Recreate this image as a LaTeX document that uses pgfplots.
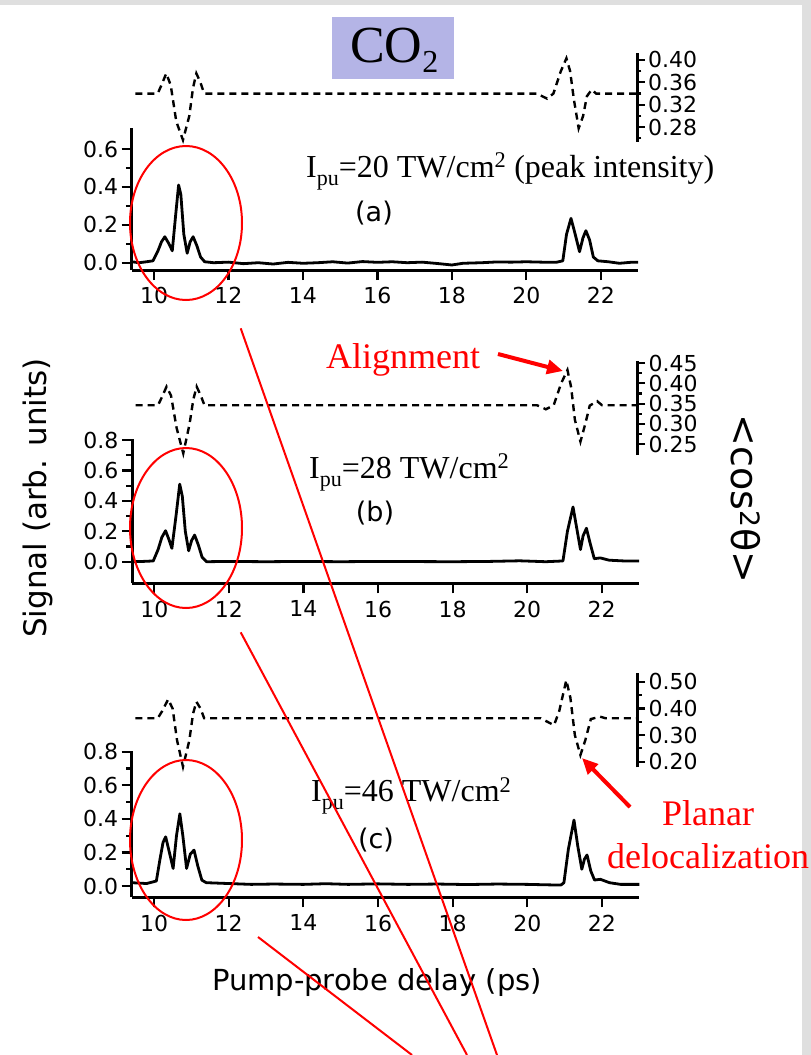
\documentclass[border=0pt]{standalone}
\usepackage{pgfplots}
\pgfplotsset{compat=1.18}
\usepackage{fontspec}
\setmainfont{Liberation Serif}
\newfontfamily\dejavu{DejaVu Sans}
\usetikzlibrary{arrows.meta}
\definecolor{lav}{RGB}{180,180,230}
\pgfplotsset{
  base/.style={scale only axis, xmin=9.4, xmax=23, anchor=south west,
    clip=false,
    tick label style={font=\dejavu\fontsize{22}{22}\selectfont},
    /pgf/number format/assume math mode=true},
  lines/.style={tick align=outside,
    every tick/.style={black, line width=2.2pt},
    axis line style={-, line width=3pt},
    x axis line style={-, line width=3pt}, y axis line style={-, line width=3pt},
    every outer x axis line/.append style={-, line width=3pt},
    every outer y axis line/.append style={-, line width=3pt},
    every inner x axis line/.append style={-, line width=3pt},
    every inner y axis line/.append style={-, line width=3pt}},
  sig/.style={base, axis x line*=bottom, axis y line*=left,
    xtick pos=lower, ytick pos=left,
    xtick={10,12,...,22}, major tick length=10pt, minor tick length=5.7pt,
    minor y tick num=1,
    y tick label style={/pgf/number format/.cd,fixed,fixed zerofill,precision=1,/tikz/.cd},
    x tick label style={yshift=-4pt}, lines},
  cs/.style={base, axis x line=none, axis y line*=right, ytick pos=right,
    major tick length=7.7pt, minor tick length=4.3pt,
    y tick label style={/pgf/number format/.cd,fixed,fixed zerofill,precision=2,/tikz/.cd}, lines},
  sline/.style={black, line width=2.8pt, line join=round},
  dline/.style={black, line width=2.4pt, dash pattern=on 7pt off 5pt},
}
\begin{document}
\begin{tikzpicture}
\useasboundingbox (0,0) rectangle (811pt,-1055pt);
\clip (0,0) rectangle (811pt,-1055pt);
\fill[white] (0,0) rectangle (811pt,-1055pt);
\fill[gray!25] (0,0) rectangle (811pt,-5pt);
\fill[gray!25] (802pt,0) rectangle (811pt,-1055pt);

% ---------- panel (a) ----------
\begin{axis}[sig, at={(131.7pt,-270pt)}, width=506.3pt, height=142pt,
  ymin=-0.0385, ymax=0.711, ytick={0,0.2,0.4,0.6}]
\addplot[sline] coordinates {(9.4,0.005) (9.6,0.0) (9.8,0.005) (9.97,0.01) (10.1,0.06) (10.2,0.11) (10.29,0.137) (10.4,0.1) (10.49,0.063) (10.58,0.25) (10.66,0.41) (10.72,0.36) (10.8,0.15) (10.89,0.05) (10.97,0.11) (11.05,0.137) (11.15,0.09) (11.25,0.03) (11.36,0.005) (11.6,0.0) (12.0,0.003) (12.4,-0.005) (12.8,0.0) (13.2,-0.007) (13.6,0.002) (14.0,-0.003) (14.4,0.0) (14.8,0.005) (15.2,-0.002) (15.6,0.006) (16.0,0.002) (16.4,0.005) (16.8,0.0) (17.2,0.003) (17.6,-0.004) (18.0,-0.012) (18.3,-0.003) (18.8,0.0) (19.2,0.004) (19.6,0.003) (20.0,0.005) (20.4,0.003) (20.8,0.002) (20.98,0.01) (21.08,0.15) (21.2,0.234) (21.3,0.16) (21.43,0.058) (21.52,0.13) (21.6,0.169) (21.7,0.12) (21.8,0.03) (21.92,0.01) (22.2,0.005) (22.5,-0.003) (22.8,0.002) (23,0.002)};
\end{axis}
\begin{axis}[cs, at={(131.7pt,-141.7pt)}, width=505.3pt, height=89pt,
  ymin=0.254, ymax=0.413, ytick={0.28,0.32,0.36,0.40}, minor ytick={0.26,0.30,0.34,0.38}]
\addplot[dline] coordinates {(9.5,0.34) (10.1,0.34) (10.2,0.355) (10.33,0.376) (10.45,0.355) (10.6,0.29) (10.78,0.257) (10.95,0.30) (11.05,0.35) (11.14,0.376) (11.25,0.36) (11.35,0.34) (20.3,0.34) (20.58,0.331) (20.75,0.34) (20.95,0.38) (21.1,0.403) (21.2,0.38) (21.3,0.33) (21.43,0.278) (21.55,0.30) (21.65,0.335) (21.78,0.347) (21.9,0.34) (23,0.34)};
\end{axis}

% ---------- panel (b) ----------
\begin{axis}[sig, at={(132pt,-583.3pt)}, width=507pt, height=144.3pt,
  ymin=-0.142, ymax=0.807, ytick={0,0.2,0.4,0.6,0.8}]
\addplot[sline] coordinates {(9.4,0.0) (9.7,0.002) (9.97,0.005) (10.1,0.08) (10.2,0.16) (10.3,0.204) (10.4,0.14) (10.47,0.088) (10.58,0.3) (10.68,0.51) (10.75,0.43) (10.83,0.2) (10.92,0.072) (11.0,0.14) (11.08,0.175) (11.18,0.11) (11.28,0.03) (11.4,0.0) (12.0,0.002) (13.0,0.0) (14.0,0.002) (15.0,0.0) (16.0,0.002) (17.0,0.001) (18.0,0.0) (19.0,0.002) (19.8,0.006) (20.5,0.0) (20.96,0.005) (21.08,0.2) (21.23,0.36) (21.33,0.22) (21.43,0.08) (21.5,0.17) (21.59,0.22) (21.68,0.13) (21.8,0.02) (21.96,0.025) (22.2,0.01) (22.6,0.005) (23,0.005)};
\end{axis}
\begin{axis}[cs, at={(132pt,-455pt)}, width=505.3pt, height=94.3pt,
  ymin=0.223, ymax=0.456, ytick={0.25,0.30,0.35,0.40,0.45}, minor ytick={0.275,0.325,0.375,0.425}]
\addplot[dline] coordinates {(9.5,0.346) (10.1,0.346) (10.2,0.365) (10.33,0.392) (10.45,0.37) (10.6,0.29) (10.78,0.227) (10.95,0.30) (11.05,0.36) (11.14,0.392) (11.25,0.37) (11.35,0.346) (20.3,0.346) (20.54,0.336) (20.75,0.346) (20.95,0.40) (21.12,0.433) (21.22,0.39) (21.32,0.31) (21.47,0.256) (21.6,0.30) (21.72,0.345) (21.92,0.356) (22.05,0.346) (23,0.346)};
\end{axis}

% ---------- panel (c) ----------
\begin{axis}[sig, at={(131.7pt,-897.3pt)}, width=507.6pt, height=146.3pt,
  ymin=-0.067, ymax=0.804, ytick={0,0.2,0.4,0.6,0.8}]
\addplot[sline] coordinates {(9.4,0.02) (9.8,0.015) (10.06,0.03) (10.15,0.15) (10.24,0.26) (10.31,0.293) (10.41,0.2) (10.51,0.105) (10.6,0.3) (10.69,0.43) (10.77,0.3) (10.87,0.105) (10.97,0.19) (11.07,0.214) (11.17,0.12) (11.28,0.035) (11.4,0.02) (12.0,0.015) (12.6,0.01) (13.2,0.012) (14.0,0.01) (14.6,0.014) (15.2,0.01) (16.0,0.013) (16.8,0.01) (17.6,0.012) (18.4,0.009) (19.2,0.012) (20.0,0.01) (20.6,0.007) (20.9,0.006) (20.98,0.02) (21.1,0.22) (21.25,0.393) (21.35,0.24) (21.46,0.1) (21.53,0.16) (21.6,0.185) (21.7,0.09) (21.8,0.036) (21.96,0.04) (22.2,0.02) (22.5,0.01) (23,0.01)};
\end{axis}
\begin{axis}[cs, at={(131.7pt,-767.3pt)}, width=505.6pt, height=94.6pt,
  ymin=0.179, ymax=0.534, ytick={0.2,0.3,0.4,0.5}, minor ytick={0.25,0.35,0.45}]
\addplot[dline] coordinates {(9.5,0.363) (10.1,0.363) (10.22,0.39) (10.38,0.434) (10.5,0.40) (10.62,0.28) (10.78,0.181) (10.95,0.28) (11.05,0.38) (11.14,0.425) (11.25,0.40) (11.35,0.363) (20.4,0.363) (20.76,0.337) (20.9,0.39) (21.09,0.506) (21.2,0.44) (21.32,0.30) (21.47,0.225) (21.6,0.28) (21.75,0.36) (22.0,0.369) (22.15,0.363) (23,0.363)};
\end{axis}

\begin{scope}[x=1pt,y=-1pt]
% CO2 box
\fill[lav] (332.3,17) rectangle (454,79.3);
\node[anchor=base west, inner sep=0] at (350,62) {\fontsize{52}{52}\selectfont CO\raisebox{-10pt}{\fontsize{32}{32}\selectfont 2}};
% intensity labels
\node[anchor=base west, inner sep=0] at (306,177) {\fontsize{32}{32}\selectfont I\raisebox{-8pt}{\fontsize{22}{22}\selectfont pu}=20 TW/cm\textsuperscript{2} (peak intensity)};
\node[anchor=base west, inner sep=0] at (309,478) {\fontsize{32}{32}\selectfont I\raisebox{-8pt}{\fontsize{22}{22}\selectfont pu}=28 TW/cm\textsuperscript{2}};
\node[anchor=base west, inner sep=0] at (311,801.7) {\fontsize{32}{32}\selectfont I\raisebox{-8pt}{\fontsize{22}{22}\selectfont pu}=46 TW/cm\textsuperscript{2}};
\node at (374,213) {\dejavu\fontsize{27}{27}\selectfont (a)};
\node at (375,513) {\dejavu\fontsize{27}{27}\selectfont (b)};
\node at (376,840) {\dejavu\fontsize{27}{27}\selectfont (c)};
% axis labels
\node[rotate=90] at (38,498) {\dejavu\fontsize{31}{31}\selectfont Signal (arb. units)};
\node at (377,982) {\dejavu\fontsize{29}{29}\selectfont Pump-probe delay (ps)};
\node[rotate=-90] at (746,499) {\dejavu\fontsize{38}{38}\selectfont <cos\textsuperscript{2}θ>};
% red annotations
\node[anchor=base west, inner sep=0, red] at (326,368) {\fontsize{36}{36}\selectfont Alignment};
\node[anchor=base west, inner sep=0, red] at (662,825) {\fontsize{36}{36}\selectfont Planar};
\node[anchor=base west, inner sep=0, red] at (607,868) {\fontsize{36}{36}\selectfont delocalization};
\draw[red, line width=4pt, -{Triangle[length=16pt,width=14pt]}] (498,354) -- (563,371);
\draw[red, line width=4pt, -{Triangle[length=16pt,width=14pt]}] (630,807) -- (582,758);
\draw[red, line width=2pt] (186,223) ellipse [x radius=56pt, y radius=77pt];
\draw[red, line width=2pt] (186,528) ellipse [x radius=56pt, y radius=80pt];
\draw[red, line width=2pt] (186,840) ellipse [x radius=56pt, y radius=80pt];
\draw[red, line width=2pt] (240.7,328.3) -- (497,1055);
\draw[red, line width=2pt] (240.7,632.3) -- (467,1055);
\draw[red, line width=2pt] (258,937) -- (412,1055);
\end{scope}
\end{tikzpicture}
\end{document}
